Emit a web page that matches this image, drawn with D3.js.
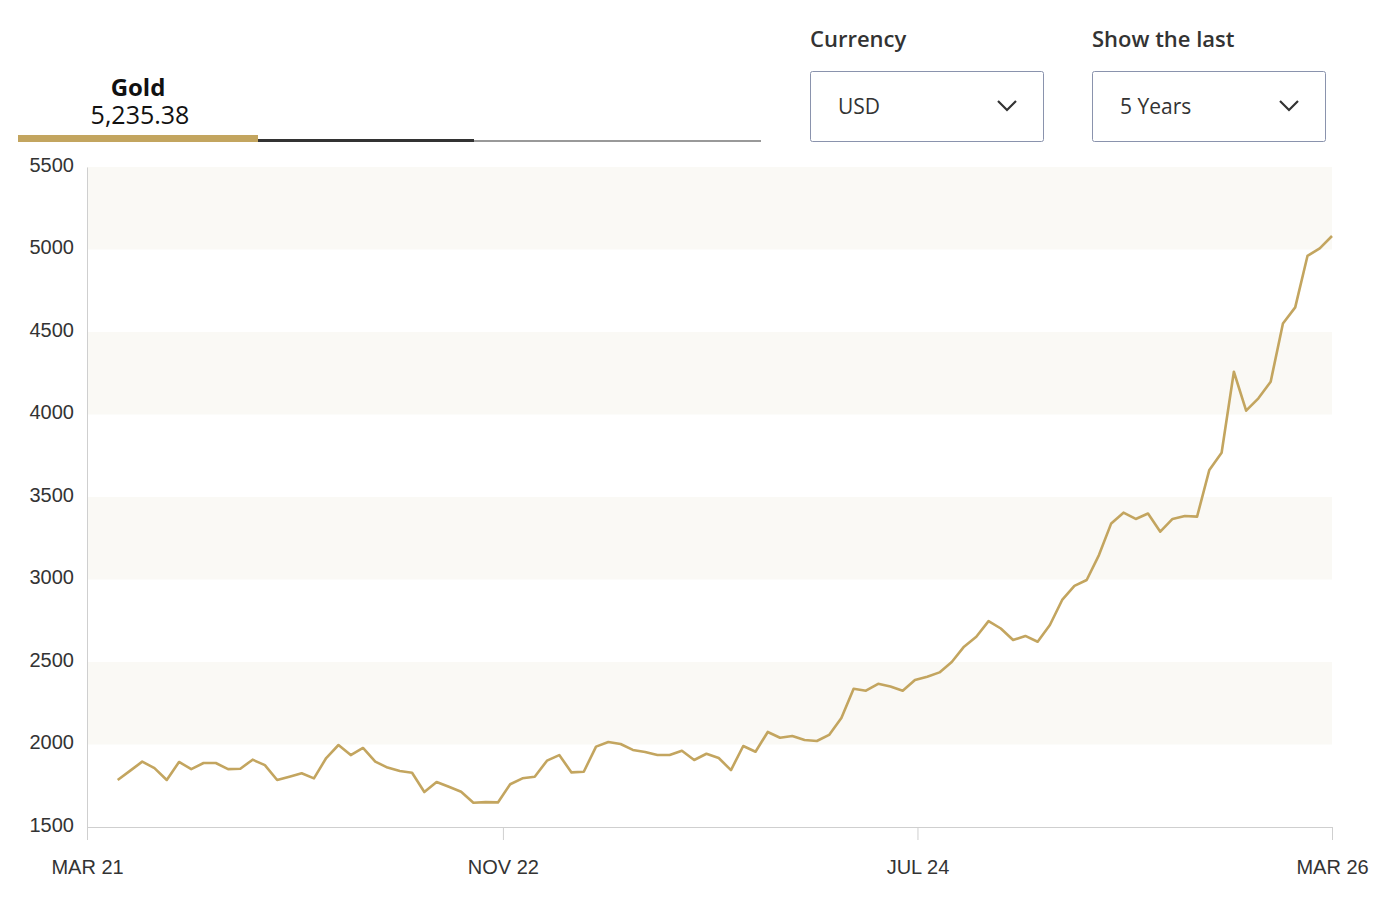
<!DOCTYPE html>
<html><head><meta charset="utf-8">
<script src="https://cdn.jsdelivr.net/npm/d3@7"></script>
<style>body{margin:0;background:#fff}svg{display:block}</style>
</head><body>
<svg id="c" width="1388" height="915"></svg>
<script>
const goldPrices = [1785,1840,1896,1857,1785,1894,1851,1888,1888,1851,1853,1908,1875,1785,1805,1826,1795,1918,1997,1936,1979,1896,1860,1839,1829,1712,1773,1744,1714,1647,1651,1649,1759,1795,1805,
1902,1936,1831,1835,1987,2015,2003,1967,1955,1936,1936,1962,1906,1944,1918,1845,1991,1956,2076,2041,2051,2027,2021,2058,2160,2338,2326,2368,2352,2326,2391,2411,2437,2500,
2593,2653,2748,2703,2633,2658,2623,2724,2876,2961,2997,3148,3340,3405,3367,3400,3290,3367,3385,3381,3664,3768,4259,4023,4098,4199,4552,4649,4961,5007,5082];
const firstDate = new Date(2021,3,15), lastDate = new Date(2026,2,1);
const yTicks = [1500,2000,2500,3000,3500,4000,4500,5000,5500];
const xTickDates = [new Date(2021,2,1),new Date(2022,10,1),new Date(2024,6,1),new Date(2026,2,1)];
const xTickLabels = ["MAR 21","NOV 22","JUL 24","MAR 26"];
const bands = [[2000,2500],[3000,3500],[4000,4500],[5000,5500]];

const svg = d3.select("#c");
const x = d3.scaleTime().domain([new Date(2021,2,1),new Date(2026,2,1)]).range([87,1332]);
const y = d3.scaleLinear().domain([1500,5500]).range([827,167]);
const n = goldPrices.length;
const dateAt = d3.scaleLinear().domain([0,n-1]).range([firstDate.getTime(),lastDate.getTime()]);
const data = goldPrices.map((v,i)=>({d:new Date(dateAt(i)),v}));

svg.selectAll("rect.band").data(bands).join("rect")
  .attr("x",87).attr("width",1332-87).attr("y",d=>y(d[1])).attr("height",d=>y(d[0])-y(d[1]))
  .attr("fill","#faf9f5");

const ya = svg.append("g").attr("transform","translate(87,0)").call(d3.axisLeft(y).tickValues(yTicks).tickFormat(d3.format("d")).tickSize(0).tickPadding(13));
ya.select(".domain").attr("stroke","#cfcfcf");
ya.selectAll("text").attr("font-family","Liberation Sans, Arial").attr("font-size",20).attr("fill","#333").attr("dy","0.2em");

const xa = svg.append("g").attr("transform","translate(0,827)").call(d3.axisBottom(x).tickValues(xTickDates).tickFormat((d,i)=>xTickLabels[i]).tickSize(13).tickPadding(20));
xa.select(".domain").attr("stroke","#cfcfcf");
xa.selectAll("line").attr("stroke","#cfcfcf");
xa.selectAll("text").attr("font-family","Liberation Sans, Arial").attr("font-size",20).attr("fill","#333");

svg.append("path").datum(data).attr("fill","none").attr("stroke","#c3a55f").attr("stroke-width",2.6)
  .attr("stroke-linejoin","round").attr("d",d3.line().x(d=>x(d.d)).y(d=>y(d.v)));

// header
const F="Open Sans, sans-serif";
svg.append("text").attr("x",138).attr("y",96).attr("text-anchor","middle").attr("font-family",F).attr("font-weight",700).attr("font-size",24).attr("fill","#111").text("Gold");
svg.append("text").attr("x",140).attr("y",124).attr("text-anchor","middle").attr("font-family",F).attr("font-size",25).attr("fill","#111").text("5,235.38");
svg.append("rect").attr("x",18).attr("y",135).attr("width",240).attr("height",7).attr("fill","#c3a55f");
svg.append("rect").attr("x",258).attr("y",139).attr("width",216).attr("height",3).attr("fill","#333");
svg.append("rect").attr("x",474).attr("y",140).attr("width",287).attr("height",2).attr("fill","#999");

const drops=[{lx:810,label:"Currency",val:"USD"},{lx:1092,label:"Show the last",val:"5 Years"}];
drops.forEach(dd=>{
  svg.append("text").attr("x",dd.lx).attr("y",47).attr("font-family",F).attr("font-weight",600).attr("font-size",22).attr("fill","#333").text(dd.label);
  svg.append("rect").attr("x",dd.lx+0.5).attr("y",71.5).attr("width",233).attr("height",70).attr("rx",2).attr("fill","#fff").attr("stroke","#8a93ad");
  svg.append("text").attr("x",dd.lx+28).attr("y",114).attr("font-family",F).attr("font-size",21).attr("fill","#333").text(dd.val);
  const cx=dd.lx+197;
  svg.append("path").attr("d",`M${cx-9},101 L${cx},110 L${cx+9},101`).attr("fill","none").attr("stroke","#333").attr("stroke-width",2.2);
});
</script>
</body></html>
